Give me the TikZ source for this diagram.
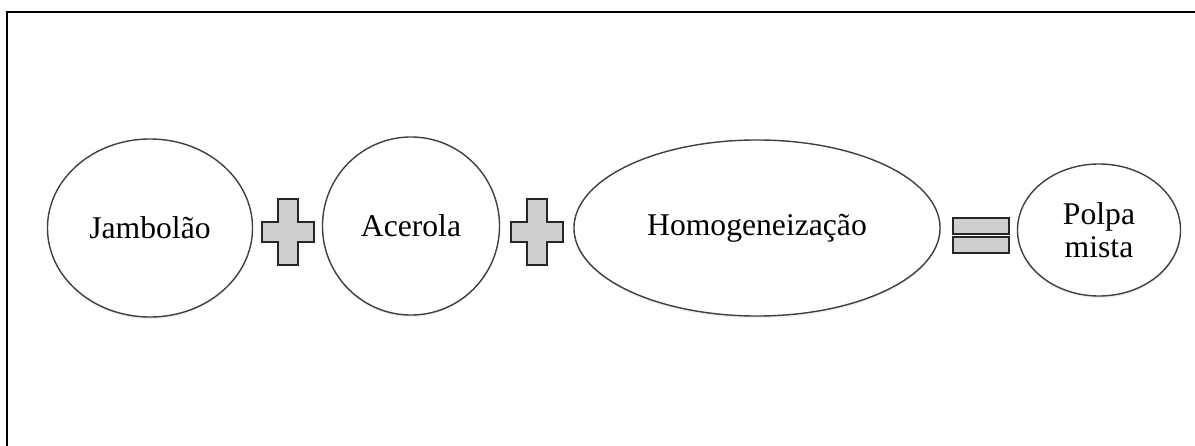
\documentclass[tikz,border=0pt]{standalone}
\usepackage{fontspec}
\setmainfont{Liberation Serif}
\usepackage{tikz}
\usetikzlibrary{shapes.geometric, shadows}
\tikzset{
  stage/.style={
    ellipse, draw=black!75, line width=1pt, fill=white,
    drop shadow={opacity=0.12, shadow xshift=0pt, shadow yshift=-1.5pt},
    inner sep=0pt, align=center,
    font=\fontsize{22.5}{23.5}\selectfont
  },
  opsign/.style={
    draw=black!85, line width=1.1pt, fill=gray!38
  },
  plussign/.pic={
    \draw[opsign] (-10,-33) -- (10,-33) -- (10,-10) -- (26,-10) -- (26,10)
      -- (10,10) -- (10,33) -- (-10,33) -- (-10,10) -- (-26,10) -- (-26,-10)
      -- (-10,-10) -- cycle;
  },
  equalsign/.pic={
    \draw[opsign] (-28,-17.5) rectangle (28,-1.5);
    \draw[opsign] (-28,1.5) rectangle (28,17.5);
  }
}

\begin{document}
\begin{tikzpicture}[x=0.025cm, y=-0.025cm]
  \useasboundingbox (0,0) rectangle (1195,446);
  % outer frame, runs off the page on the right and at the bottom
  \draw[line width=2.1pt] (7,470) |- (1220,12);

  \node[stage, minimum width=5.125cm, minimum height=4.45cm] at (150,228) (jamb) {Jambol\~ao};
  \node[stage, minimum width=4.425cm, minimum height=4.45cm] at (411,226) (acer) {Acerola};
  \node[stage, minimum width=9.15cm, minimum height=4.4cm] at (757,228) (homo) {Homogeneiza\c c\~ao};
  \node[stage, minimum width=4.075cm, minimum height=3.3cm] at (1099,230) (polpa) {Polpa\\mista};

  \pic at (288,232) {plussign};
  \pic at (537,232) {plussign};
  \pic at (981,235.5) {equalsign};
\end{tikzpicture}
\end{document}
